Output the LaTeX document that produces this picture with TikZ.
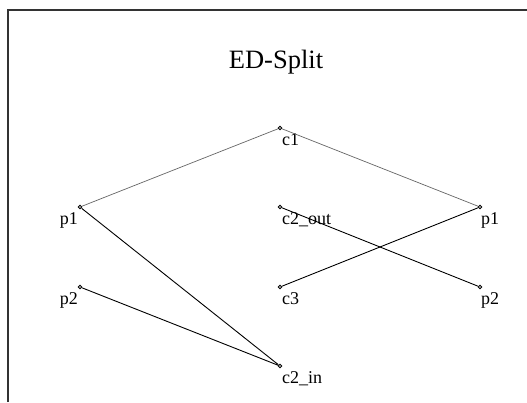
\documentclass[tikz,border=0pt]{standalone}
\usepackage{fontspec}
\setmainfont{Liberation Serif}
\tikzset{
  pt/.style={circle,draw=black,line width=0.8pt,inner sep=0pt,minimum size=3.6pt},
  labr/.style={anchor=north west,inner sep=0pt,font=\fontsize{18}{20}\selectfont},
  labl/.style={anchor=north east,inner sep=0pt,font=\fontsize{18}{20}\selectfont},
  lite/.style={draw=black!60,line width=0.7pt},
  dark/.style={draw=black,line width=0.9pt}
}
\begin{document}
\begin{tikzpicture}[x=1pt,y=-1pt]
\useasboundingbox (0,0) rectangle (527,402);
\fill[white] (0,0) rectangle (527,402);
\draw[black!80,line width=1.5pt] (8,402) -- (8,10) -- (527,10);
\node[font=\fontsize{26.5}{30}\selectfont] (title) at (276,62) {ED-Split};
\node[pt] (c1) at (280,128) {};
\node[pt] (lp1) at (80,207) {};
\node[pt] (lp2) at (80,287) {};
\node[pt] (c2out) at (280,207) {};
\node[pt] (c3) at (280,287) {};
\node[pt] (rp1) at (480,207) {};
\node[pt] (rp2) at (480,287) {};
\node[pt] (c2in) at (280,366) {};
\node[labr] (lc1) at (282,133) {c1};
\node[labl] (llp1) at (78,212) {p1};
\node[labl] (llp2) at (78,292) {p2};
\node[labr] (lc2out) at (282,212) {c2\_out};
\node[labr] (lc3) at (282,292) {c3};
\node[labr] (lrp1) at (481,212) {p1};
\node[labr] (lrp2) at (481,292) {p2};
\node[labr] (lc2in) at (282,371) {c2\_in};
\draw[lite] (c1) -- (lp1);
\draw[lite] (c1) -- (rp1);
\draw[dark] (lp1) -- (c2in);
\draw[dark] (lp2) -- (c2in);
\draw[dark] (c2out) -- (rp2);
\draw[dark] (c3) -- (rp1);
\end{tikzpicture}
\end{document}
